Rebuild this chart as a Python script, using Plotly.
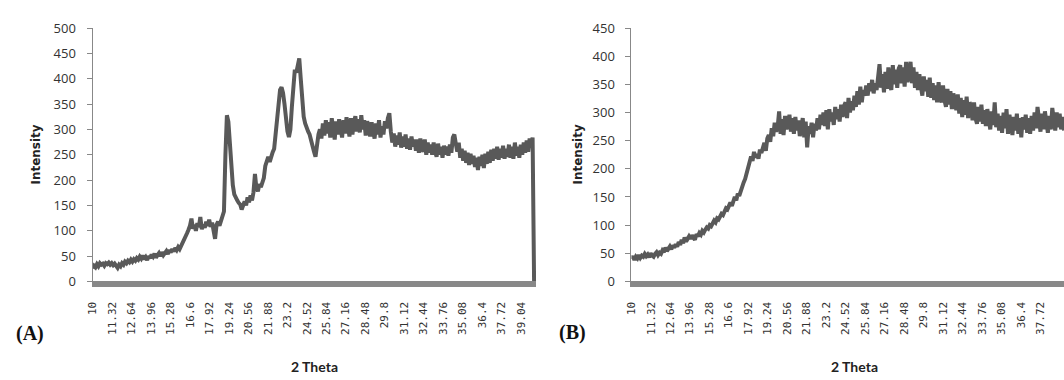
import numpy as np
import plotly.graph_objects as go

# 2-theta sampling (degrees): start and step of the recorded scan
theta_start = 10.0
theta_step = 0.1

# Intensity readings, pattern (A), 10.0 .. 39.9 deg (last point drops to 0)
intensity_a = [
    26, 31, 28, 34, 30, 36, 33, 35, 31, 36,
    34, 37, 33, 36, 32, 35, 31, 27, 33, 30,
    36, 33, 39, 36, 41, 38, 43, 39, 44, 41,
    46, 43, 49, 45, 51, 44, 48, 42, 50, 46,
    53, 49, 55, 47, 52, 56, 50, 58, 52, 55,
    60, 54, 62, 57, 64, 59, 66, 62, 68, 64,
    70, 73, 79, 86, 95, 102, 110, 124, 104, 112,
    100, 115, 107, 127, 103, 112, 106, 118, 110, 122,
    108, 116, 104, 84, 112, 118, 110, 121, 126, 138,
    250, 328, 315, 272, 226, 190, 172, 163, 160, 155,
    152, 142, 148, 158, 150, 166, 156, 170, 160, 176,
    212, 184, 178, 192, 186, 198, 204, 228, 236, 246,
    236, 248, 255, 262, 290, 335, 362, 378, 383, 372,
    350, 318, 296, 285, 300, 345, 395, 418, 412, 428,
    440, 400, 350, 325, 312, 302, 296, 290, 276, 266,
    256, 246, 272, 290, 300, 282, 312, 288, 318, 292,
    314, 284, 322, 296, 280, 316, 290, 320, 298, 284,
    318, 292, 324, 300, 286, 322, 290, 314, 326, 296,
    320, 294, 328, 300, 318, 288, 316, 304, 286, 314,
    298, 282, 312, 290, 318, 284, 306, 290, 316, 302,
    322, 332, 296, 274, 292, 266, 288, 270, 294, 264,
    286, 266, 290, 262, 282, 260, 286, 266, 280, 258,
    280, 254, 282, 262, 256, 280, 250, 274, 254, 270,
    250, 274, 256, 246, 272, 250, 266, 244, 268, 250,
    266, 248, 270, 254, 284, 290, 272, 256, 274, 244,
    262, 238, 258, 234, 254, 230, 252, 232, 248, 226,
    244, 220, 246, 228, 250, 224, 252, 232, 256, 234,
    260, 238, 262, 242, 266, 240, 262, 244, 268, 242,
    262, 246, 270, 244, 266, 242, 274, 248, 266, 244,
    270, 250, 274, 254, 278, 256, 282, 264, 284, 0,
]

# Intensity readings, pattern (B), 10.0 .. 39.3 deg (chart cut at right edge)
intensity_b = [
    40, 45, 38, 44, 41, 47, 42, 46, 44, 49,
    45, 48, 43, 50, 46, 44, 49, 52, 47, 51,
    49, 55, 52, 60, 54, 58, 62, 57, 64, 60,
    66, 62, 70, 65, 74, 68, 78, 71, 75, 80,
    76, 82, 78, 74, 84, 80, 86, 83, 90, 87,
    92, 96, 94, 100, 98, 104, 108, 105, 112, 110,
    116, 120, 118, 126, 130, 128, 136, 140, 134, 145,
    150, 144, 156, 152, 162, 170, 176, 182, 192, 200,
    210, 222, 214, 230, 220, 226, 218, 234, 228, 238,
    246, 232, 254, 260, 248, 272, 258, 282, 266, 274,
    302, 262, 288, 260, 294, 270, 280, 296, 266, 290,
    262, 292, 268, 286, 258, 282, 290, 256, 284, 238,
    276, 262, 282, 256, 280, 268, 290, 270, 296, 278,
    300, 276, 304, 270, 306, 284, 300, 278, 310, 288,
    306, 284, 314, 292, 312, 318, 290, 326, 300, 320,
    304, 330, 310, 338, 314, 346, 318, 340, 330, 348,
    330, 352, 338, 358, 334, 352, 340, 362, 386, 344,
    368, 336, 372, 342, 380, 348, 340, 384, 350, 376,
    344, 378, 384, 352, 380, 346, 390, 354, 378, 390,
    352, 380, 344, 372, 340, 368, 346, 330, 364, 338,
    358, 328, 362, 326, 352, 322, 348, 318, 354, 326,
    318, 348, 322, 310, 342, 314, 338, 306, 334, 312,
    304, 332, 298, 326, 292, 322, 296, 328, 290, 318,
    312, 286, 318, 290, 280, 310, 284, 314, 280, 304,
    276, 306, 282, 270, 302, 278, 318, 274, 298, 268,
    294, 264, 300, 272, 306, 262, 296, 274, 260, 292,
    268, 298, 262, 290, 256, 292, 270, 296, 264, 290,
    262, 294, 268, 300, 272, 310, 280, 266, 298, 270,
    302, 274, 264, 294, 270, 308, 278, 268, 300, 274,
    298, 270, 292, 268,
]

# category tick labels shown on both x axes
x_tick_labels = ["10", "11.32", "12.64", "13.96", "15.28", "16.6", "17.92",
                 "19.24", "20.56", "21.88", "23.2", "24.52", "25.84", "27.16",
                 "28.48", "29.8", "31.12", "32.44", "33.76", "35.08", "36.4",
                 "37.72", "39.04"]

theta_a = np.round(theta_start + theta_step * np.arange(len(intensity_a)), 2)
theta_b = np.round(theta_start + theta_step * np.arange(len(intensity_b)), 2)
tick_vals = [float(t) for t in x_tick_labels]

W, H = 1064, 380
line_color = "#595959"
axis_gray = "#888888"
text_gray = "#333333"

fig = go.Figure()
fig.add_trace(go.Scatter(x=theta_a, y=intensity_a, mode="lines",
                         line=dict(color=line_color, width=4),
                         xaxis="x", yaxis="y", showlegend=False))
fig.add_trace(go.Scatter(x=theta_b, y=intensity_b, mode="lines",
                         line=dict(color=line_color, width=4),
                         xaxis="x2", yaxis="y2", showlegend=False))

ydom = [94 / H, 360 / H]

def xaxis_cfg(domain, rng, anchor):
    return dict(domain=domain, range=rng, tickmode="array",
                tickvals=tick_vals, ticktext=x_tick_labels, tickangle=-90,
                tickfont=dict(family="DejaVu Sans Mono", size=11, color=text_gray),
                ticklabelstandoff=10,
                showline=True, linecolor=axis_gray, linewidth=6,
                ticks="", showgrid=False, zeroline=False, anchor=anchor)

def yaxis_cfg(rng, anchor):
    return dict(domain=ydom, range=rng, dtick=50, tick0=0,
                tickfont=dict(family="Open Sans", size=13, color=text_gray),
                ticklabelstandoff=8,
                showline=True, linecolor=axis_gray, linewidth=1,
                ticks="outside", ticklen=5, tickcolor=axis_gray,
                showgrid=False, zeroline=False, anchor=anchor)

fig.update_layout(
    width=W, height=H, margin=dict(l=0, r=0, t=0, b=0),
    paper_bgcolor="white", plot_bgcolor="white",
    xaxis=xaxis_cfg([87 / W, 533 / W], [10, 40.03], "y"),
    yaxis=yaxis_cfg([0, 500], "x"),
    xaxis2=xaxis_cfg([629 / W, 1.0], [10, 10 + (W - 629) / 14.85], "y2"),
    yaxis2=yaxis_cfg([0, 450], "x2"),
)

annots = [
    dict(text="<b>Intensity</b>", x=30 / W, y=1 - 153 / H, textangle=-90,
         font=dict(family="DejaVu Sans", size=12, color="#222222")),
    dict(text="<b>Intensity</b>", x=575 / W, y=1 - 153 / H, textangle=-90,
         font=dict(family="DejaVu Sans", size=12, color="#222222")),
    dict(text="<b>2 Theta</b>", x=310 / W, y=1 - 375 / H,
         font=dict(family="Lato", size=14, color="#222222")),
    dict(text="<b>2 Theta</b>", x=853 / W, y=1 - 375 / H,
         font=dict(family="Lato", size=14, color="#222222")),
    dict(text="<b>(A)</b>", x=24 / W, y=1 - 341 / H,
         font=dict(family="Liberation Serif", size=20, color="#111111")),
    dict(text="<b>(B)</b>", x=570 / W, y=1 - 340 / H,
         font=dict(family="Liberation Serif", size=20, color="#111111")),
]
for a in annots:
    a.update(xref="paper", yref="paper", showarrow=False,
             xanchor="center", yanchor="middle")
    fig.add_annotation(**a)

fig.write_html("out.html")
